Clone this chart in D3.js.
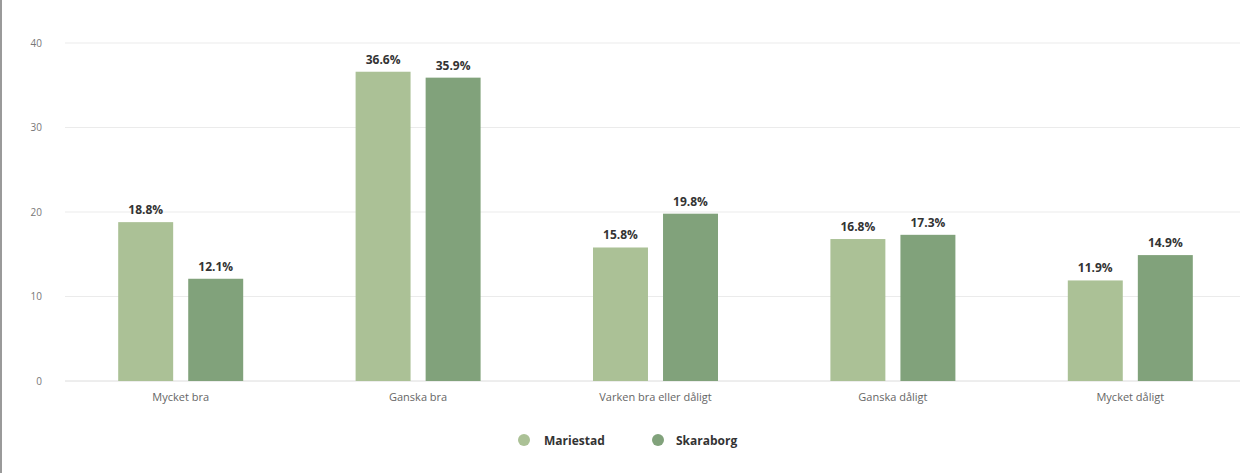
<!DOCTYPE html>
<html>
<head>
<meta charset="utf-8">
<script src="https://cdn.jsdelivr.net/npm/d3@7"></script>
<style>
html,body{margin:0;padding:0;background:#fff;}
svg{display:block;font-family:"Open Sans","DejaVu Sans",sans-serif;}
</style>
</head>
<body>
<svg id="chart" width="1255" height="473"></svg>
<script>
const categories = ["Mycket bra", "Ganska bra", "Varken bra eller dåligt", "Ganska dåligt", "Mycket dåligt"];
const seriesNames = ["Mariestad", "Skaraborg"];
const mariestad = [18.8, 36.6, 15.8, 16.8, 11.9];
const skaraborg = [12.1, 35.9, 19.8, 17.3, 14.9];
const yTicks = [0, 10, 20, 30, 40];
const colors = ["#abc196", "#81a27b"];

const svg = d3.select("#chart");
const W = 1255, H = 473;
const plot = {left: 62, right: 1249, top: 43, bottom: 381};

// faint left border artifact
svg.append("rect").attr("x",0).attr("y",0).attr("width",2).attr("height",H).attr("fill","#9a9a9a");

const x = d3.scaleBand().domain(categories).range([plot.left, plot.right]).paddingInner(0).paddingOuter(0);
const y = d3.scaleLinear().domain([0, 40]).range([plot.bottom, plot.top]);
const xs = d3.scaleBand().domain(seriesNames).range([0, 125]).paddingInner(0.215);

// gridlines
svg.append("g").selectAll("line").data(yTicks).join("line")
  .attr("x1", 65).attr("x2", 1240)
  .attr("y1", d => y(d)).attr("y2", d => y(d))
  .attr("stroke", d => d === 0 ? "#dcdcdc" : "#ebebeb").attr("stroke-width", 1);

// y axis labels
const yAxis = d3.axisLeft(y).tickValues(yTicks).tickSize(0).tickPadding(0);
const gy = svg.append("g").attr("transform", "translate(42,0)").call(yAxis);
gy.select(".domain").remove();
gy.selectAll("text").attr("fill", "#777").attr("font-size", 10).attr("font-family", "'Open Sans',sans-serif");

// bars
const data = [];
categories.forEach((c, i) => {
  data.push({cat: c, s: seriesNames[0], v: mariestad[i], k: 0});
  data.push({cat: c, s: seriesNames[1], v: skaraborg[i], k: 1});
});
const groupOffset = (x.bandwidth() - 125) / 2;
const bars = svg.append("g");
bars.selectAll("rect").data(data).join("rect")
  .attr("x", d => x(d.cat) + groupOffset + xs(d.s))
  .attr("width", xs.bandwidth())
  .attr("y", d => y(d.v))
  .attr("height", d => y(0) - y(d.v))
  .attr("fill", d => colors[d.k]);

bars.selectAll("text").data(data).join("text")
  .attr("x", d => x(d.cat) + groupOffset + xs(d.s) + xs.bandwidth()/2)
  .attr("y", d => y(d.v) - 8)
  .attr("text-anchor", "middle")
  .attr("font-size", 12).attr("font-weight", "bold").attr("fill", "#333")
  .text(d => d.v.toFixed(1) + "%");

// x axis labels
const xAxis = d3.axisBottom(x).tickSize(0).tickPadding(0);
const gx = svg.append("g").attr("transform", `translate(0,${plot.bottom + 12})`).call(xAxis);
gx.select(".domain").remove();
gx.selectAll("text").attr("fill", "#666").attr("font-size", 11).attr("font-family", "'Open Sans',sans-serif");

// legend
const legendItems = [{name: seriesNames[0], cx: 524, tx: 544}, {name: seriesNames[1], cx: 658, tx: 676}];
const lg = svg.append("g");
legendItems.forEach((d, i) => {
  lg.append("circle").attr("cx", d.cx).attr("cy", 440).attr("r", 6).attr("fill", colors[i]);
  lg.append("text").attr("x", d.tx).attr("y", 444.5).attr("font-size", 12).attr("font-weight", "bold")
    .attr("fill", "#333").text(d.name);
});
</script>
</body>
</html>
